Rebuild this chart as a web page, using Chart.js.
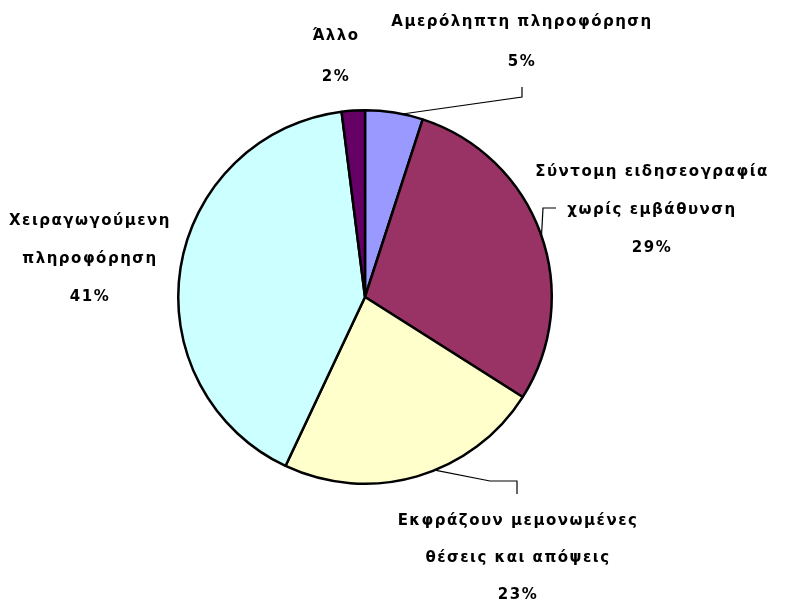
<!DOCTYPE html>
<html>
<head>
<meta charset="utf-8">
<script src="https://cdn.jsdelivr.net/npm/chart.js@4.4.1/dist/chart.umd.min.js"></script>
<style>
  html, body { margin: 0; padding: 0; background: #fff; }
  #wrap { width: 788px; height: 604px; }
</style>
</head>
<body>
<div id="wrap"><canvas id="pieChart" width="788" height="604"></canvas></div>
<script>
// Δεδομένα του γραφήματος
const categories = [
    'Αμερόληπτη πληροφόρηση',
    'Σύντομη ειδησεογραφία χωρίς εμβάθυνση',
    'Εκφράζουν μεμονωμένες θέσεις και απόψεις',
    'Χειραγωγούμενη πληροφόρηση',
    'Άλλο'
];
const values = [5, 29, 23, 41, 2];
const sliceColors = ['#9999FF', '#993366', '#FFFFCC', '#CCFFFF', '#660066'];

// Γραμμές κειμένου για κάθε ετικέτα
const labelLines = [
    ['Αμερόληπτη πληροφόρηση', '5%'],
    ['Σύντομη ειδησεογραφία', 'χωρίς εμβάθυνση', '29%'],
    ['Εκφράζουν μεμονωμένες', 'θέσεις και απόψεις', '23%'],
    ['Χειραγωγούμενη', 'πληροφόρηση', '41%'],
    ['Άλλο', '2%']
];

// Θέσεις ετικετών (κέντρο πρώτης γραμμής) και γραμμές οδηγοί
const labelPos = [
    { x: 522, y: 22, lh: 40 },
    { x: 652, y: 172, lh: 38 },
    { x: 518, y: 521, lh: 37 },
    { x: 90, y: 221, lh: 38 },
    { x: 336, y: 36, lh: 41 }
];
// σημείο εκκίνησης πάνω στην περιφέρεια (κλάσμα κύκλου από την κορυφή)
const leaderStart = [0.032, 0.197, 0.439, null, null];
const leaders = [
    [[522, 97], [522, 87]],
    [[543, 208], [556, 208]],
    [[490, 481], [517, 481], [517, 494]],
    null,
    null
];

const labelPlugin = {
    id: 'sliceLabels',
    afterDraw(chart) {
        const ctx = chart.ctx;
        const arcs = chart.getDatasetMeta(0).data;
        ctx.save();
        ctx.fillStyle = '#000';
        ctx.strokeStyle = '#000';
        ctx.lineWidth = 1.2;
        ctx.font = 'bold 15px "DejaVu Sans"';
        ctx.letterSpacing = '1.5px';
        ctx.textAlign = 'center';
        ctx.textBaseline = 'middle';

        arcs.forEach((arc, i) => {
            // γραμμή οδηγός από την περιφέρεια της φέτας
            if (leaders[i]) {
                const p = arc.getProps(['x', 'y', 'outerRadius'], true);
                const a = -Math.PI / 2 + Math.PI * 2 * leaderStart[i];
                ctx.beginPath();
                ctx.moveTo(p.x + Math.cos(a) * p.outerRadius, p.y + Math.sin(a) * p.outerRadius);
                leaders[i].forEach(pt => ctx.lineTo(pt[0], pt[1]));
                ctx.stroke();
            }
            const pos = labelPos[i];
            labelLines[i].forEach((t, k) => {
                ctx.fillText(t, pos.x, pos.y + k * pos.lh);
            });
        });
        ctx.restore();
    }
};

new Chart(document.getElementById('pieChart'), {
    type: 'pie',
    data: {
        labels: categories,
        datasets: [{
            data: values,
            backgroundColor: sliceColors,
            borderColor: '#000',
            borderWidth: 2.5
        }]
    },
    options: {
        responsive: false,
        animation: false,
        rotation: 0,
        layout: {
            padding: { left: 177, right: 235, top: 109, bottom: 119 }
        },
        plugins: {
            legend: { display: false },
            tooltip: { enabled: false }
        }
    },
    plugins: [labelPlugin]
});
</script>
</body>
</html>
